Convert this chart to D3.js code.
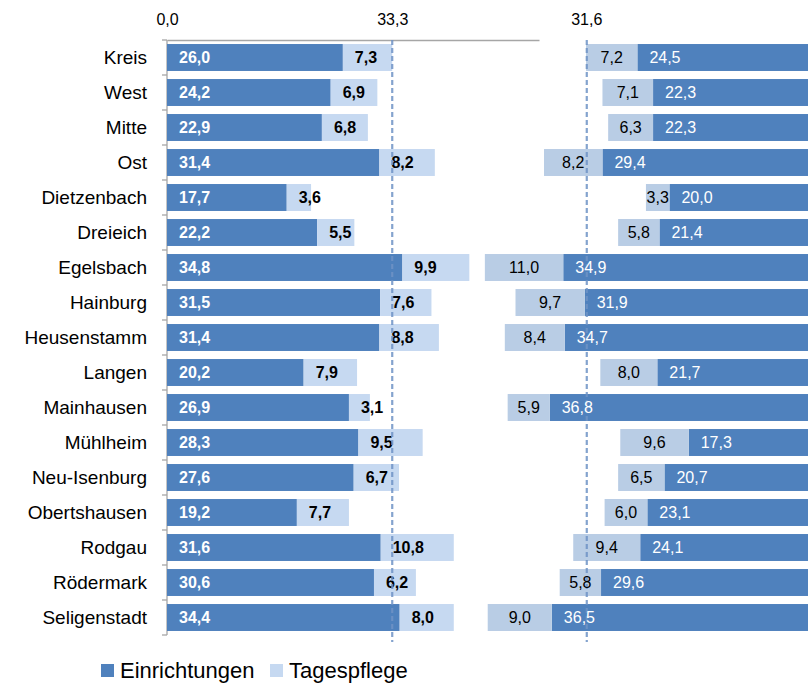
<!DOCTYPE html>
<html>
<head>
<meta charset="utf-8">
<script src="https://cdn.jsdelivr.net/npm/d3@7"></script>
<style>
  html, body { margin: 0; padding: 0; background: #fff; }
  svg { display: block; font-family: "Liberation Sans", Arial, sans-serif; }
</style>
</head>
<body>
<div id="chart"></div>
<script>
const categories = [
  "Kreis", "West", "Mitte", "Ost", "Dietzenbach", "Dreieich", "Egelsbach",
  "Hainburg", "Heusenstamm", "Langen", "Mainhausen", "Mühlheim",
  "Neu-Isenburg", "Obertshausen", "Rodgau", "Rödermark", "Seligenstadt"
];

// left panel
const leftEinrichtungen = [26.0, 24.2, 22.9, 31.4, 17.7, 22.2, 34.8, 31.5, 31.4, 20.2, 26.9, 28.3, 27.6, 19.2, 31.6, 30.6, 34.4];
const leftTagespflege = [7.3, 6.9, 6.8, 8.2, 3.6, 5.5, 9.9, 7.6, 8.8, 7.9, 3.1, 9.5, 6.7, 7.7, 10.8, 6.2, 8.0];
const leftAverage = 33.3;

// right panel (mirrored)
const rightEinrichtungen = [24.5, 22.3, 22.3, 29.4, 20.0, 21.4, 34.9, 31.9, 34.7, 21.7, 36.8, 17.3, 20.7, 23.1, 24.1, 29.6, 36.5];
const rightTagespflege = [7.2, 7.1, 6.3, 8.2, 3.3, 5.8, 11.0, 9.7, 8.4, 8.0, 5.9, 9.6, 6.5, 6.0, 9.4, 5.8, 9.0];
const rightAverage = 31.6;

const legendItems = ["Einrichtungen", "Tagespflege"];

const width = 808;
const height = 684;

const darkBlue = "#4f81bd";
const lightLeft = "#c6d9f1";
const lightRight = "#b9cde5";
const dashColor = "#6f93c6";

const de = d3.formatLocale({ decimal: ",", thousands: ".", grouping: [3], currency: ["", " €"] });
const fmt = de.format(".1f");

const svg = d3.select("#chart")
  .append("svg")
  .attr("width", width)
  .attr("height", height);

const y = d3.scaleBand()
  .domain(categories)
  .range([40, 635])
  .paddingInner(0.23)
  .paddingOuter(0.115);

const xL = d3.scaleLinear().domain([0, 55]).range([167, 539]);
const xR = d3.scaleLinear().domain([0, 55]).range([812, 420]);

const rows = categories.map((c, i) => ({
  cat: c,
  le: leftEinrichtungen[i],
  lt: leftTagespflege[i],
  re: rightEinrichtungen[i],
  rt: rightTagespflege[i],
}));

// ---- left panel ----
const left = svg.append("g");

// top axis
left.append("g")
  .attr("transform", "translate(0,40)")
  .call(d3.axisTop(xL).tickValues([0, leftAverage]).tickFormat(fmt).tickSize(0).tickPadding(15))
  .call((g) => g.select(".domain").attr("stroke", "#a6a6a6").attr("stroke-width", 1.3))
  .call((g) => g.selectAll("text").attr("font-size", 16).attr("fill", "#000")
    .attr("font-family", "'Liberation Sans', Arial, sans-serif"));

// category labels
left.append("g")
  .attr("transform", `translate(${xL(0)},0)`)
  .call(d3.axisLeft(y).tickSize(0).tickPadding(20))
  .call((g) => g.select(".domain").remove())
  .call((g) => g.selectAll("text").attr("font-size", 19).attr("fill", "#000")
    .attr("font-family", "'Liberation Sans', Arial, sans-serif"));

// vertical axis with boundary ticks
const bounds = categories.map((c) => y(c) - (y.step() * y.paddingInner()) / 2);
bounds.push(y.range()[1]);
left.append("line")
  .attr("x1", xL(0)).attr("x2", xL(0))
  .attr("y1", y.range()[0]).attr("y2", y.range()[1])
  .attr("stroke", "#a6a6a6").attr("stroke-width", 1.3);
left.selectAll(".btick")
  .data(bounds)
  .enter()
  .append("line")
  .attr("x1", xL(0) - 5).attr("x2", xL(0))
  .attr("y1", (d) => d).attr("y2", (d) => d)
  .attr("stroke", "#a6a6a6").attr("stroke-width", 1.3);

left.selectAll(".le")
  .data(rows)
  .enter()
  .append("rect")
  .attr("x", xL(0))
  .attr("y", (d) => y(d.cat))
  .attr("width", (d) => xL(d.le) - xL(0))
  .attr("height", y.bandwidth())
  .attr("fill", darkBlue);

left.selectAll(".lt")
  .data(rows)
  .enter()
  .append("rect")
  .attr("x", (d) => xL(d.le))
  .attr("y", (d) => y(d.cat))
  .attr("width", (d) => xL(d.le + d.lt) - xL(d.le))
  .attr("height", y.bandwidth())
  .attr("fill", lightLeft);

left.selectAll(".lel")
  .data(rows)
  .enter()
  .append("text")
  .attr("x", xL(0) + 12)
  .attr("y", (d) => y(d.cat) + y.bandwidth() / 2)
  .attr("dy", "0.36em")
  .attr("font-size", 16)
  .attr("font-weight", "bold")
  .attr("fill", "#fff")
  .text((d) => fmt(d.le));

left.selectAll(".ltl")
  .data(rows)
  .enter()
  .append("text")
  .attr("x", (d) => xL(d.le) + 12)
  .attr("y", (d) => y(d.cat) + y.bandwidth() / 2)
  .attr("dy", "0.36em")
  .attr("font-size", 16)
  .attr("font-weight", "bold")
  .attr("fill", "#000")
  .text((d) => fmt(d.lt));

left.append("line")
  .attr("x1", xL(leftAverage)).attr("x2", xL(leftAverage))
  .attr("y1", 40).attr("y2", 642)
  .attr("stroke", dashColor).attr("stroke-width", 2.2)
  .attr("stroke-dasharray", "5,3").attr("opacity", 0.85);

// ---- right panel ----
const right = svg.append("g");

right.selectAll(".re")
  .data(rows)
  .enter()
  .append("rect")
  .attr("x", (d) => xR(d.re))
  .attr("y", (d) => y(d.cat))
  .attr("width", (d) => xR(0) - xR(d.re))
  .attr("height", y.bandwidth())
  .attr("fill", darkBlue);

right.selectAll(".rt")
  .data(rows)
  .enter()
  .append("rect")
  .attr("x", (d) => xR(d.re + d.rt))
  .attr("y", (d) => y(d.cat))
  .attr("width", (d) => xR(d.re) - xR(d.re + d.rt))
  .attr("height", y.bandwidth())
  .attr("fill", lightRight);

right.append("line")
  .attr("x1", xR(rightAverage)).attr("x2", xR(rightAverage))
  .attr("y1", 40).attr("y2", 642)
  .attr("stroke", dashColor).attr("stroke-width", 2.2)
  .attr("stroke-dasharray", "5,3").attr("opacity", 0.85);

right.append("text")
  .attr("x", xR(rightAverage))
  .attr("y", 25)
  .attr("text-anchor", "middle")
  .attr("font-size", 16)
  .text(fmt(rightAverage));

right.selectAll(".rel")
  .data(rows)
  .enter()
  .append("text")
  .attr("x", (d) => xR(d.re) + 12)
  .attr("y", (d) => y(d.cat) + y.bandwidth() / 2)
  .attr("dy", "0.36em")
  .attr("font-size", 16)
  .attr("fill", "#fff")
  .text((d) => fmt(d.re));

right.selectAll(".rtl")
  .data(rows)
  .enter()
  .append("text")
  .attr("x", (d) => (xR(d.re) + xR(d.re + d.rt)) / 2)
  .attr("y", (d) => y(d.cat) + y.bandwidth() / 2)
  .attr("dy", "0.36em")
  .attr("text-anchor", "middle")
  .attr("font-size", 16)
  .attr("fill", "#000")
  .text((d) => fmt(d.rt));

// ---- legend ----
const legendColor = d3.scaleOrdinal().domain(legendItems).range([darkBlue, lightLeft]);
const legendX = d3.scaleOrdinal().domain(legendItems).range([101, 270]);

const legend = svg.append("g").attr("class", "legend");
legend.selectAll("rect")
  .data(legendItems)
  .enter()
  .append("rect")
  .attr("x", (d) => legendX(d))
  .attr("y", 664)
  .attr("width", 13)
  .attr("height", 13)
  .attr("fill", (d) => legendColor(d));

legend.selectAll("text")
  .data(legendItems)
  .enter()
  .append("text")
  .attr("x", (d) => legendX(d) + 19)
  .attr("y", 678)
  .attr("font-size", 22)
  .attr("fill", "#000")
  .text((d) => d);
</script>
</body>
</html>
